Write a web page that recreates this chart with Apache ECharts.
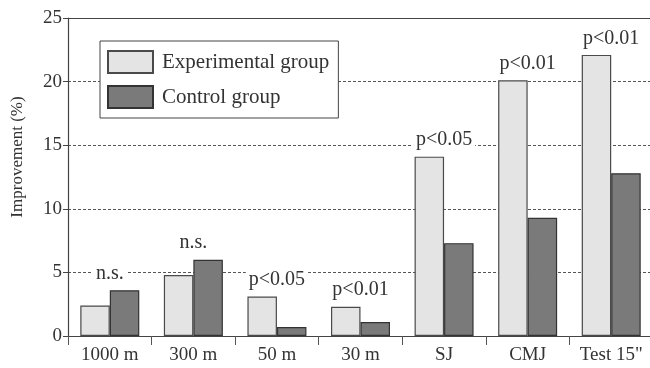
<!DOCTYPE html>
<html><head><meta charset="utf-8">
<script src="https://cdn.jsdelivr.net/npm/echarts@6/dist/echarts.min.js"></script>
<style>html,body{margin:0;padding:0;background:#fff}#c{width:650px;height:368px}</style>
</head><body><div id="c"></div>
<script>
const categories = ['1000 m', '300 m', '50 m', '30 m', 'SJ', 'CMJ', 'Test 15"'];
const experimental = [2.4, 4.8, 3.1, 2.3, 14.1, 20.1, 22.1];
const control = [3.6, 6.0, 0.7, 1.1, 7.3, 9.3, 12.8];
const significance = ['n.s.', 'n.s.', 'p<0.05', 'p<0.01', 'p<0.05', 'p<0.01', 'p<0.01'];
const yTicks = [0, 5, 10, 15, 20, 25];

const font = 'Liberation Serif';
const ink = '#333';
const annotTops = experimental.map((v, i) => Math.max(v, control[i]));

const chart = echarts.init(document.getElementById('c'));
chart.setOption({
  animation: false,
  grid: { left: 68, top: 18, width: 585, height: 318, containLabel: false, outerBoundsMode: 'none' },
  legend: {
    orient: 'vertical', left: 100, top: 41,
    padding: [9, 9, 9, 7],
    icon: 'rect',
    itemWidth: 45, itemHeight: 22, itemGap: 11,
    borderColor: '#444', borderWidth: 1, backgroundColor: '#fff',
    textStyle: { fontFamily: font, fontSize: 21, color: ink, padding: [0, 0, 0, 4] },
    data: ['Experimental group', 'Control group']
  },
  xAxis: {
    type: 'category', data: categories,
    axisLine: { lineStyle: { color: '#444', width: 1.2 } },
    axisTick: { show: true, length: 9, lineStyle: { color: '#555' } },
    axisLabel: { fontFamily: font, fontSize: 19, color: ink, margin: 10 }
  },
  yAxis: {
    type: 'value', min: 0, max: 25, interval: 5,
    name: 'Improvement (%)', nameLocation: 'middle', nameGap: 42,
    nameTextStyle: { fontFamily: font, fontSize: 17, color: ink, padding: [0, 0, 0, 40] },
    axisLine: { show: true, lineStyle: { color: '#444', width: 1.2 } },
    axisTick: { show: true, length: 5, lineStyle: { color: '#444' } },
    axisLabel: { fontFamily: font, fontSize: 19, color: ink, margin: 6,
      formatter: v => yTicks.includes(v) ? String(v) : '' },
    splitLine: { show: true, lineStyle: { color: '#555', type: [3, 2], width: 1 } }
  },
  series: [
    {
      name: 'Experimental group', type: 'bar', data: experimental,
      barWidth: 29.5, barGap: '0%',
      itemStyle: { color: '#e4e4e4', borderColor: '#4a4a4a', borderWidth: 1.2 },
      markLine: { silent: true, symbol: 'none', label: { show: false },
        lineStyle: { color: '#444', type: 'solid', width: 1.2 },
        data: [{ yAxis: 25 }] }
    },
    {
      name: 'Control group', type: 'bar', data: control,
      barWidth: 29.5,
      itemStyle: { color: '#7a7a7a', borderColor: '#333', borderWidth: 1.2 }
    },
    {
      type: 'scatter', data: annotTops, symbolSize: 1, silent: true, z: 5,
      itemStyle: { opacity: 0 },
      label: {
        show: true, position: 'top', distance: 6,
        formatter: p => significance[p.dataIndex],
        fontFamily: font, fontSize: 20, color: '#333', opacity: 1,
        backgroundColor: '#fff', padding: [0, 3]
      }
    }
  ]
});
</script></body></html>
